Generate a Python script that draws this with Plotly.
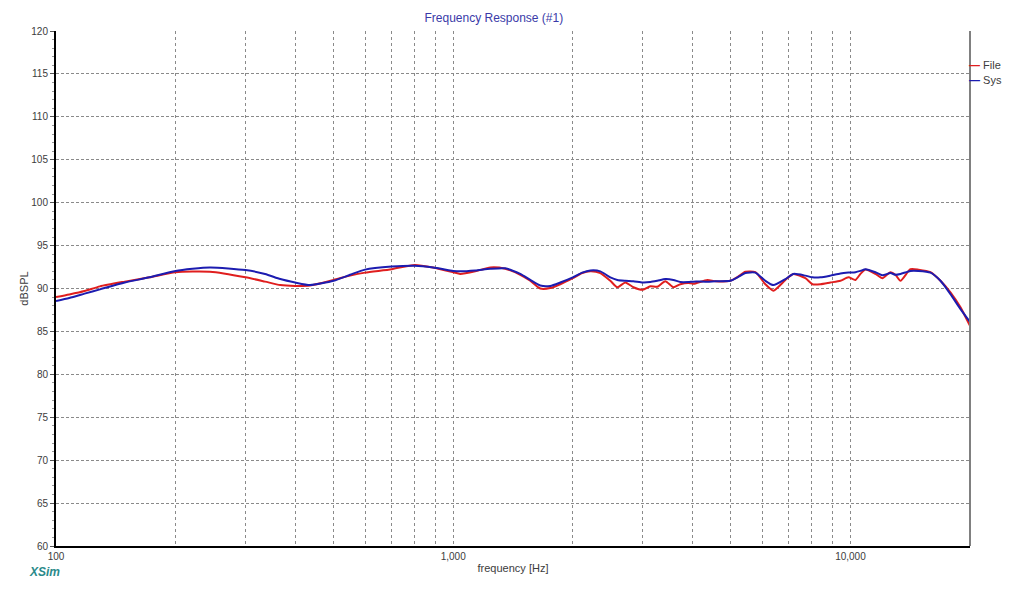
import plotly.graph_objects as go

# frequency points (Hz)
freq = [100, 108, 118, 129, 149, 172, 200, 244, 300, 336, 367, 400, 436, 500, 550,
        600, 700, 800, 890, 1000, 1041, 1136, 1240, 1352, 1475, 1563, 1656, 1755,
        1860, 2000, 2113, 2214, 2346, 2486, 2589, 2712, 2841, 3000, 3135, 3265,
        3420, 3583, 3731, 3908, 4023, 4363, 4570, 4985, 5223, 5439, 5763, 6107,
        6398, 6860, 7185, 7701, 8024, 8405, 8904, 9436, 9885, 10295, 10598, 10910,
        11561, 12037, 12612, 12983, 13366, 14163, 14840, 15907, 16853, 17857,
        18930, 20000]

# measured file response (dB SPL)
spl_file = [89.0, 89.3, 89.7, 90.25, 90.8, 91.3, 91.9, 91.95, 91.3, 90.8, 90.4, 90.3,
            90.35, 91.0, 91.5, 91.85, 92.25, 92.75, 92.45, 91.9, 91.7, 92.0, 92.45,
            92.3, 91.6, 90.9, 90.0, 90.05, 90.5, 91.2, 91.8, 92.0, 91.8, 90.9, 90.15,
            90.7, 90.15, 89.85, 90.25, 90.2, 90.85, 90.15, 90.5, 90.65, 90.55, 91.0,
            90.85, 90.9, 91.4, 91.95, 91.9, 90.5, 89.75, 91.0, 91.7, 91.2, 90.5, 90.5,
            90.7, 90.9, 91.3, 91.0, 91.7, 92.2, 91.7, 91.2, 91.9, 91.6, 90.9, 92.25,
            92.2, 91.9, 90.9, 89.55, 87.8, 85.65]

# simulated system response (dB SPL)
spl_sys = [88.55, 88.9, 89.4, 89.9, 90.7, 91.3, 92.05, 92.45, 92.15, 91.7, 91.1, 90.7,
           90.4, 90.9, 91.6, 92.2, 92.55, 92.65, 92.45, 92.05, 92.0, 92.1, 92.3, 92.35,
           91.7, 91.0, 90.35, 90.3, 90.7, 91.3, 91.85, 92.1, 92.0, 91.3, 91.0, 90.9,
           90.85, 90.7, 90.75, 90.9, 91.1, 91.0, 90.75, 90.75, 90.8, 90.8, 90.85,
           90.9, 91.35, 91.8, 91.85, 90.9, 90.4, 91.1, 91.7, 91.5, 91.3, 91.3, 91.5,
           91.75, 91.85, 91.9, 92.05, 92.25, 91.9, 91.55, 91.8, 91.6, 91.7, 92.05,
           92.05, 91.85, 90.9, 89.35, 87.6, 86.1]

x_major = [100, 1000, 10000]
x_major_text = ['100', '1,000', '10,000']
x_minor = [200, 300, 400, 500, 600, 700, 800, 900,
           2000, 3000, 4000, 5000, 6000, 7000, 8000, 9000]

series = [('File', spl_file, '#e01e1e'), ('Sys', spl_sys, '#1c1cb0')]

font = 'Liberation Sans, Arial, sans-serif'
grid = '#8a8a8a'

fig = go.Figure()
for name, vals, col in series:
    fig.add_trace(go.Scatter(x=freq, y=vals, name=name, mode='lines',
                             line=dict(color=col, width=2, shape='spline', smoothing=0.6)))

# page body has an 8px margin, so the figure is a bit smaller than the window
fig.update_layout(
    width=1008, height=577,
    margin=dict(l=48, r=46, t=23, b=37),
    paper_bgcolor='white', plot_bgcolor='white',
    font=dict(family=font, size=10, color='#3c3c3c'),
    title=dict(text='Frequency Response (#1)', xref='container', x=0.482, xanchor='center',
               yref='container', y=0.983, yanchor='middle',
               font=dict(family=font, size=12, color='#3a3aa8')),
    showlegend=False,
)

fig.update_xaxes(
    type='log', range=[2, 4.30103],
    tickvals=x_major, ticktext=x_major_text, ticks='',
    showgrid=True, gridcolor=grid, griddash='dot', gridwidth=1,
    minor=dict(tickvals=x_minor, showgrid=True, gridcolor=grid, griddash='dot', gridwidth=1, ticks=''),
    showline=True, linecolor='black', linewidth=2, zeroline=False,
    title=dict(text='frequency [Hz]', standoff=3, font=dict(size=11, color='#3c3c3c')),
)

fig.update_yaxes(
    range=[60, 120], tick0=60, dtick=5,
    ticks='outside', ticklen=4, tickcolor='#555555',
    minor=dict(dtick=1, ticks='outside', ticklen=2, tickcolor='#999999', showgrid=False),
    showgrid=True, gridcolor=grid, griddash='3px,2px', gridwidth=1,
    showline=True, linecolor='black', linewidth=2, zeroline=False,
    title=dict(text='dBSPL', standoff=0, font=dict(size=11, color='#3c3c3c')),
)

# right frame edge of the plot area
fig.add_shape(type='line', xref='paper', yref='paper', x0=1, x1=1, y0=0, y1=1,
              line=dict(color='#808080', width=2))

# small legend at the right edge
for i, (name, vals, col) in enumerate(series):
    fig.add_annotation(text=f'<span style="color:{col}"><b>\u2014</b></span> {name}',
                       xref='paper', yref='paper', x=0.997, y=0.934 - i * 0.029,
                       xanchor='left', yanchor='middle', showarrow=False,
                       font=dict(family=font, size=11, color='#3c3c3c'))

fig.add_annotation(text='<b><i>XSim</i></b>', xref='paper', yref='paper',
                   x=-0.032, y=-0.050, xanchor='left', yanchor='middle', showarrow=False,
                   font=dict(family=font, size=12, color='#2a8a8a'))

fig.write_html('out.html')
